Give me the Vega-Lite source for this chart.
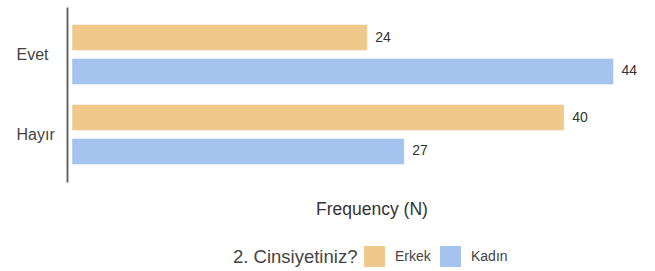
{
  "$schema": "https://vega.github.io/schema/vega-lite/v6.json",
  "autosize": "none",
  "width": 566,
  "height": 175,
  "padding": {"left": 72, "top": 7, "right": 17, "bottom": 89},
  "background": "white",
  "config": {
    "font": "Liberation Sans",
    "view": {"stroke": null}
  },
  "data": {
    "values": [
      {"answer": "Evet", "gender": "Erkek", "n": 24},
      {"answer": "Evet", "gender": "Kadın", "n": 44},
      {"answer": "Hayır", "gender": "Erkek", "n": 40},
      {"answer": "Hayır", "gender": "Kadın", "n": 27}
    ]
  },
  "encoding": {
    "y": {
      "field": "answer",
      "type": "nominal",
      "sort": ["Evet", "Hayır"],
      "scale": {"paddingInner": 0.25, "paddingOuter": 0.21875},
      "axis": {
        "title": null,
        "offset": 5,
        "ticks": false,
        "domainColor": "#666666",
        "domainWidth": 2,
        "labelAlign": "left",
        "labelPadding": 51,
        "labelFontSize": 16,
        "labelColor": "#444444",
        "grid": false
      }
    },
    "yOffset": {
      "field": "gender",
      "type": "nominal",
      "sort": ["Erkek", "Kadın"],
      "scale": {"paddingInner": 0.235, "paddingOuter": 0}
    },
    "x": {
      "field": "n",
      "type": "quantitative",
      "scale": {"domain": [0, 46], "nice": false},
      "axis": {
        "title": "Frequency (N)",
        "titleFontSize": 17.5,
        "titleFontWeight": "normal",
        "titleColor": "#333333",
        "titlePadding": 18,
        "titleX": 299.5,
        "titleAlign": "center",
        "labels": false,
        "ticks": false,
        "domain": false,
        "grid": false
      }
    }
  },
  "layer": [
    {
      "mark": {"type": "bar", "stroke": "white", "strokeOpacity": 0.4, "strokeWidth": 1},
      "encoding": {
        "color": {
          "field": "gender",
          "type": "nominal",
          "sort": ["Erkek", "Kadın"],
          "scale": {"domain": ["Erkek", "Kadın"], "range": ["#EFC98B", "#A4C3EF"]},
          "legend": {
            "title": "2. Cinsiyetiniz?",
            "orient": "none",
            "legendX": 161,
            "legendY": 239,
            "direction": "horizontal",
            "titleOrient": "left",
            "titleFontSize": 18.5,
            "titleFontWeight": "normal",
            "titleColor": "#444444",
            "titlePadding": 6,
            "symbolType": "square",
            "symbolSize": 441,
            "symbolStrokeWidth": 0,
            "symbolOpacity": 1,
            "labelFontSize": 14,
            "labelColor": "#444444",
            "labelOffset": 10,
            "columnPadding": 9
          }
        }
      }
    },
    {
      "mark": {"type": "text", "align": "left", "baseline": "middle", "dx": 8, "fontSize": 14, "color": "#333333"},
      "encoding": {
        "text": {"field": "n", "type": "quantitative"}
      }
    }
  ]
}
